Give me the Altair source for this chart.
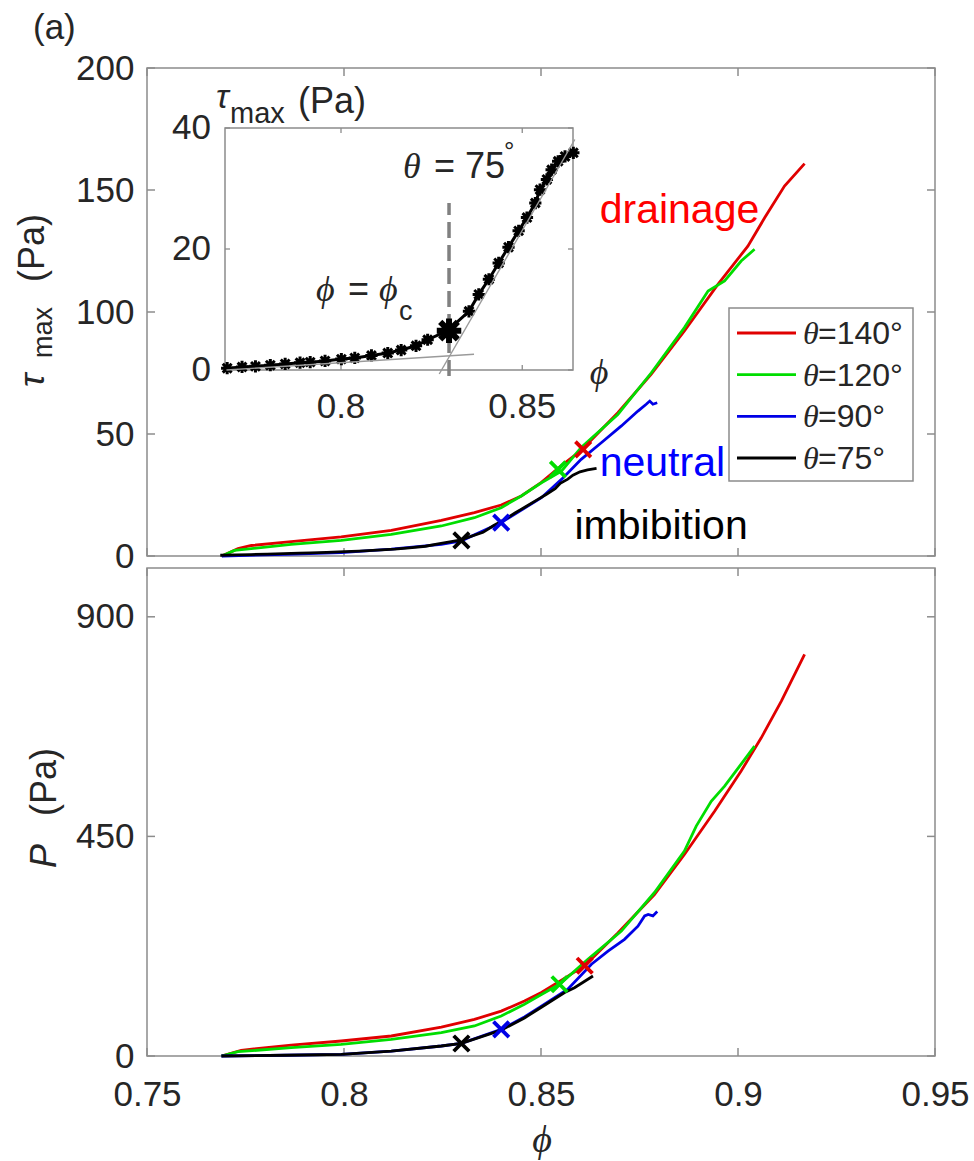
import altair as alt
import pandas as pd

# ---------------- data ----------------
SERIES = ["θ=140°", "θ=120°", "θ=90°", "θ=75°"]
LEG_NUM = ["=140°", "=120°", "=90°", "=75°"]
COLORS = ["#e00000", "#00dd00", "#0000e6", "#000000"]

# top panel: tau_max (Pa) vs phi
RED_PHI_T = [0.769, 0.7731, 0.7765, 0.7866, 0.7993, 0.812, 0.8247, 0.8331, 0.8399, 0.845, 0.8501,
             0.8551, 0.8602, 0.8695, 0.878, 0.8864, 0.8949, 0.9025, 0.9068, 0.9118, 0.9169]
RED_TAU = [0, 3.0, 4.3, 5.9, 7.8, 10.5, 14.6, 17.8, 20.9, 24.6, 30.2,
           37.0, 43.3, 58.7, 74.5, 92.2, 111.3, 127.0, 138.7, 151.6, 160.8]
GRN_PHI_T = [0.769, 0.7722, 0.7866, 0.7993, 0.812, 0.8247, 0.8331, 0.8399, 0.845, 0.8501,
             0.8552, 0.8602, 0.8695, 0.878, 0.8864, 0.8924, 0.8966, 0.9008, 0.9042]
GRN_TAU = [0, 2.3, 4.8, 6.4, 8.9, 12.3, 15.7, 19.8, 24.6, 30.0,
           34.8, 44.5, 58.0, 75.1, 93.6, 108.6, 112.7, 120.9, 125.7]
BLU_PHI_T = [0.769, 0.785, 0.7993, 0.812, 0.8247, 0.8298, 0.8399, 0.8501, 0.8552, 0.8602,
             0.8653, 0.8704, 0.8746, 0.8767, 0.8776, 0.8784, 0.8795]
BLU_TAU = [0, 0.7, 1.4, 2.8, 4.8, 6.2, 13.7, 23.9, 31.4, 39.6,
           46.4, 53.3, 59.4, 62.2, 63.5, 62.2, 62.8]
BLK_PHI_T = [0.7686, 0.7727, 0.7764, 0.7805, 0.7846, 0.7887, 0.7915, 0.7956, 0.8001, 0.8038,
             0.8084, 0.8129, 0.8166, 0.8207, 0.8239, 0.8294, 0.8353, 0.8380, 0.8408, 0.8435,
             0.8462, 0.8490, 0.8513, 0.8536, 0.8549, 0.8568, 0.8581, 0.8599, 0.8618, 0.8641]
BLK_TAU = [0.3, 0.5, 0.6, 0.8, 1.0, 1.2, 1.3, 1.5, 1.8, 2.0,
           2.4, 2.8, 3.3, 4.0, 5.0, 6.5, 9.7, 12.5, 15.0, 17.7,
           20.3, 23.0, 25.2, 27.6, 29.8, 31.5, 33.1, 34.5, 35.3, 35.9]

# bottom panel: P (Pa) vs phi
RED_PHI_B = [0.7689, 0.7739, 0.7866, 0.7993, 0.812, 0.8247, 0.8331, 0.8399, 0.8458, 0.8501,
             0.8551, 0.8611, 0.8695, 0.8788, 0.8864, 0.8941, 0.9008, 0.9059, 0.911, 0.9169]
RED_P = [0, 11.6, 22.5, 30.7, 41, 59.4, 75, 92, 112.7, 130,
         155, 185, 252, 331, 413, 502, 584, 652, 727, 823]
GRN_PHI_B = [0.7689, 0.7731, 0.7866, 0.7993, 0.812, 0.8247, 0.8331, 0.8399, 0.8458, 0.8501,
             0.8547, 0.8619, 0.8704, 0.8788, 0.8864, 0.8894, 0.8932, 0.8966, 0.9008, 0.9042]
GRN_P = [0, 8.8, 17, 24, 34, 47.8, 61.5, 82, 106, 126,
         147, 198, 256, 335, 420, 471, 522, 553, 598, 635]
BLU_PHI_B = [0.7689, 0.785, 0.7993, 0.812, 0.8247, 0.8298, 0.8399, 0.8458, 0.8501, 0.8568,
             0.8628, 0.867, 0.8712, 0.8746, 0.8763, 0.8772, 0.8784, 0.8795]
BLU_P = [0, 1.5, 3.4, 10, 20.5, 26, 54.6, 80, 102, 137,
         188, 215, 239, 266, 287, 290, 287, 296]
BLK_PHI_B = [0.7689, 0.785, 0.7993, 0.812, 0.8247, 0.8298, 0.8399, 0.8458, 0.8501, 0.856,
             0.8585, 0.8632]
BLK_P = [0, 1.5, 3.4, 10, 20.5, 26, 53, 78, 100, 130, 140, 164]

# transition markers (x)
MK_PHI_T = [0.8607, 0.8543, 0.8399, 0.8298]
MK_TAU = [43.7, 35.5, 13.7, 6.4]
MK_PHI_B = [0.8611, 0.8547, 0.8399, 0.8298]
MK_P = [185, 147, 54.6, 25.6]

# inset extras
FIT_LOW_PHI = [0.7684, 0.8367]
FIT_LOW_TAU = [0.0, 2.6]
FIT_HIGH_PHI = [0.8271, 0.8645]
FIT_HIGH_TAU = [-0.66, 38.1]
PHI_C = [0.8298]
TAU_C = [6.5]
DASH_LO = [-1.0]
DASH_HI = [27.6]

# ticks
XT_MAIN = [0.75, 0.8, 0.85, 0.9, 0.95]
YT_TOP = [0, 50, 100, 150, 200]
YT_BOT = [0, 450, 900]
XT_IN = [0.8, 0.85]
YT_IN = [0, 20, 40]

# ---------------- style ----------------
SANS = "Liberation Sans, Arial, Helvetica, sans-serif"
SERIF = "Liberation Serif, DejaVu Serif, Times New Roman, serif"
FRAME = "#8c8c8c"
TXT = "#262626"
W, H = 788, 488
IX0, IX1, IY0, IY1 = 78, 426, 60, 302
XPATH = "M-1,-1L1,1M-1,1L1,-1"
STAR = "M-1,0L1,0M0,-1L0,1M-0.72,-0.72L0.72,0.72M-0.72,0.72L0.72,-0.72"

X_MAIN = alt.Scale(domain=[0.75, 0.95], nice=False, zero=False)
Y_TOP = alt.Scale(domain=[0, 200], nice=False)
Y_BOT = alt.Scale(domain=[0, 1000], nice=False)
X_IN = alt.Scale(domain=[0.768, 0.864], range=[IX0, IX1], nice=False, zero=False)
Y_IN = alt.Scale(domain=[0, 40], range=[IY1, IY0], nice=False)
Y_LEG = alt.Scale(domain=[0, 3], range=[265, 390], nice=False, zero=False)
C_SCALE = alt.Scale(domain=SERIES, range=COLORS)


def yaxis(vals):
    return alt.Axis(values=vals, title=None, domain=False, ticks=False, tickSize=0, grid=False,
                    labelFont=SANS, labelFontSize=35, labelColor=TXT, labelPadding=13)


AX_TOP_Y = yaxis(YT_TOP)
AX_BOT_Y = yaxis(YT_BOT)
AX_BOT_X = alt.Axis(values=XT_MAIN, format="~g", title=None, domain=False, ticks=False, tickSize=0,
                    grid=False, labelFont=SANS, labelFontSize=35, labelColor=TXT, labelPadding=21,
                    labelFlush=False, labelOverlap=False)


def frame_df(phi_lists, val_lists):
    rows = []
    for s, ph, vv in zip(SERIES, phi_lists, val_lists):
        for i, (p, v) in enumerate(zip(ph, vv)):
            rows.append({"series": s, "phi": p, "val": v, "idx": i})
    return pd.DataFrame(rows)


top_df = frame_df([RED_PHI_T, GRN_PHI_T, BLU_PHI_T, BLK_PHI_T], [RED_TAU, GRN_TAU, BLU_TAU, BLK_TAU])
bot_df = frame_df([RED_PHI_B, GRN_PHI_B, BLU_PHI_B, BLK_PHI_B], [RED_P, GRN_P, BLU_P, BLK_P])
mk_df = pd.DataFrame({"series": SERIES, "pt": MK_PHI_T, "vt": MK_TAU, "pb": MK_PHI_B, "vb": MK_P})


def ptext(txt, x, y, size, font=SANS, style="normal", angle=0, align="left",
          baseline="alphabetic", color=TXT):
    return alt.Chart(pd.DataFrame({"t": [txt]})).mark_text(
        font=font, fontSize=size, fontStyle=style, angle=angle, align=align,
        baseline=baseline, color=color).encode(x=alt.value(x), y=alt.value(y), text="t:N")


def series_lines(df, yscale, xaxis, yax):
    out = []
    for s, c in zip(SERIES, COLORS):
        out.append(alt.Chart(df).transform_filter(alt.datum.series == s).mark_line(
            color=c, strokeWidth=2.8).encode(
            x=alt.X("phi:Q", scale=X_MAIN, axis=xaxis),
            y=alt.Y("val:Q", scale=yscale, axis=yax),
            order="idx:Q"))
    return out


def inward_ticks(yscale, yvals, xaxis, yax):
    xdf = pd.DataFrame({"t": XT_MAIN})
    ydf = pd.DataFrame({"t": yvals})
    rx = alt.Chart(xdf).mark_rule(color=FRAME, strokeWidth=1.5)
    ry = alt.Chart(ydf).mark_rule(color=FRAME, strokeWidth=1.5)
    xe = alt.X("t:Q", scale=X_MAIN, axis=xaxis)
    ye = alt.Y("t:Q", scale=yscale, axis=yax)
    return [
        rx.encode(x=xe, y=alt.value(H), y2=alt.value(H - 8)),
        rx.encode(x=xe, y=alt.value(0), y2=alt.value(8)),
        ry.encode(y=ye, x=alt.value(0), x2=alt.value(8)),
        ry.encode(y=ye, x=alt.value(W), x2=alt.value(W - 8)),
    ]


# ---------------- top panel ----------------
anchor = alt.Chart(pd.DataFrame({"a": [0]})).mark_rule(opacity=0).encode(
    x=alt.value(-146), x2=alt.value(-140), y=alt.value(-67), y2=alt.value(-67))

top_markers = alt.Chart(mk_df).mark_point(shape=XPATH, filled=False, size=240, strokeWidth=3.8,
                                          opacity=1).encode(
    x=alt.X("pt:Q", scale=X_MAIN, axis=None),
    y=alt.Y("vt:Q", scale=Y_TOP, axis=AX_TOP_Y),
    color=alt.Color("series:N", scale=C_SCALE, legend=None))


def annot(txt, phi, val, color):
    return alt.Chart(pd.DataFrame({"t": [txt]})).mark_text(
        font=SANS, fontSize=41, align="left", baseline="alphabetic", color=color).encode(
        x=alt.X(datum=phi, scale=X_MAIN, axis=None),
        y=alt.Y(datum=val, scale=Y_TOP, axis=AX_TOP_Y),
        text="t:N")


main_top = alt.layer(
    *inward_ticks(Y_TOP, YT_TOP, None, AX_TOP_Y),
    *series_lines(top_df, Y_TOP, None, AX_TOP_Y),
    top_markers,
    annot("drainage", 0.8649, 136.6, "#ff0000"),
    annot("neutral", 0.8649, 32.8, "#0000ff"),
    annot("imbibition", 0.8585, 7.0, "#000000"),
    ptext("(a)", -114, -29, 35),
    ptext("τ", -103, 319, 36, style="italic", angle=270),
    ptext("max", -95, 290, 27, angle=270),
    ptext("(Pa)", -103, 214, 36, angle=270),
    anchor,
)

# ---------------- inset ----------------
blk_df = pd.DataFrame({"phi": BLK_PHI_T, "val": BLK_TAU, "idx": list(range(len(BLK_PHI_T)))})
fit_df = pd.DataFrame({"phi": FIT_LOW_PHI + FIT_HIGH_PHI, "val": FIT_LOW_TAU + FIT_HIGH_TAU,
                       "g": ["low", "low", "high", "high"]})
crit_df = pd.DataFrame({"phi": PHI_C, "val": TAU_C, "lo": DASH_LO, "hi": DASH_HI})
XI = alt.X("phi:Q", scale=X_IN, axis=None)
YI = alt.Y("val:Q", scale=Y_IN, axis=None)

in_frame = alt.Chart(pd.DataFrame({"a": [0]})).mark_rect(
    fill="white", stroke=FRAME, strokeWidth=1.5).encode(
    x=alt.value(IX0), x2=alt.value(IX1), y=alt.value(IY0), y2=alt.value(IY1))
ixdf = pd.DataFrame({"t": XT_IN})
iydf = pd.DataFrame({"t": YT_IN})
ixe = alt.X("t:Q", scale=X_IN, axis=None)
iye = alt.Y("t:Q", scale=Y_IN, axis=None)
in_ticks = [
    alt.Chart(ixdf).mark_rule(color=FRAME, strokeWidth=1.3).encode(x=ixe, y=alt.value(IY1), y2=alt.value(IY1 - 5)),
    alt.Chart(ixdf).mark_rule(color=FRAME, strokeWidth=1.3).encode(x=ixe, y=alt.value(IY0), y2=alt.value(IY0 + 5)),
    alt.Chart(iydf).mark_rule(color=FRAME, strokeWidth=1.3).encode(y=iye, x=alt.value(IX0), x2=alt.value(IX0 + 5)),
    alt.Chart(iydf).mark_rule(color=FRAME, strokeWidth=1.3).encode(y=iye, x=alt.value(IX1), x2=alt.value(IX1 - 5)),
]
in_xlabels = alt.Chart(ixdf).mark_text(font=SANS, fontSize=35, color=TXT, baseline="middle").encode(
    x=ixe, y=alt.value(339), text=alt.Text("t:Q", format="~g"))
in_ylabels = alt.Chart(iydf).mark_text(font=SANS, fontSize=35, color=TXT, baseline="middle",
                                       align="right").encode(
    x=alt.value(64), y=iye, text=alt.Text("t:Q", format="~g"))

in_line = alt.Chart(blk_df).mark_line(color="black", strokeWidth=3).encode(x=XI, y=YI, order="idx:Q")
in_stars = alt.Chart(blk_df).mark_point(shape=STAR, filled=False, size=150, strokeWidth=3,
                                        color="black", opacity=1).encode(x=XI, y=YI)
in_blob = alt.Chart(crit_df).mark_point(shape=STAR, filled=False, size=600, strokeWidth=6,
                                        color="black", opacity=1).encode(x=XI, y=YI)
in_fits = alt.Chart(fit_df).mark_line(color="#9a9a9a", strokeWidth=1.4).encode(x=XI, y=YI, detail="g:N")
in_dash = alt.Chart(crit_df).mark_rule(color="#808080", strokeWidth=3.5, strokeDash=[16, 7]).encode(
    x=XI, y=alt.Y("lo:Q", scale=Y_IN, axis=None), y2="hi:Q")

inset = alt.layer(
    in_frame, *in_ticks, in_xlabels, in_ylabels,
    in_dash, in_line, in_stars, in_blob, in_fits,
    ptext("τ", 69, 40, 34, style="italic"),
    ptext("max", 83, 55, 29),
    ptext("(Pa)", 151, 45, 36),
    ptext("θ", 256, 110, 36, font=SERIF, style="italic"),
    ptext("= 75", 287, 110, 36),
    ptext("°", 357, 92, 26),
    ptext("ϕ", 169, 233, 36, font=SERIF, style="italic"),
    ptext("=", 201, 233, 36),
    ptext("ϕ", 232, 233, 36, font=SERIF, style="italic"),
    ptext("c", 252, 252, 27),
    ptext("ϕ", 452, 305, 36, font=SERIF, style="italic", align="center", baseline="middle"),
)

# ---------------- legend ----------------
leg_df = pd.DataFrame({"series": SERIES, "num": LEG_NUM, "row": [0, 1, 2, 3], "th": ["θ"] * 4})
YL = alt.Y("row:Q", scale=Y_LEG, axis=None)
legend = alt.layer(
    alt.Chart(pd.DataFrame({"a": [0]})).mark_rect(fill="white", stroke=FRAME, strokeWidth=1.5).encode(
        x=alt.value(582), x2=alt.value(766), y=alt.value(240), y2=alt.value(413)),
    alt.Chart(leg_df).mark_rule(strokeWidth=2.8).encode(
        x=alt.value(590), x2=alt.value(649), y=YL,
        color=alt.Color("series:N", scale=C_SCALE, legend=None)),
    alt.Chart(leg_df).mark_text(font=SERIF, fontStyle="italic", fontSize=32, align="left",
                                baseline="alphabetic", dy=11, color=TXT).encode(
        x=alt.value(656), y=YL, text="th:N"),
    alt.Chart(leg_df).mark_text(font=SANS, fontSize=32, align="left",
                                baseline="alphabetic", dy=11, color=TXT).encode(
        x=alt.value(671), y=YL, text="num:N"),
)

top = alt.layer(main_top, inset, legend).resolve_scale(
    x="independent", y="independent").properties(width=W, height=H)

# ---------------- bottom panel ----------------
bot_markers = alt.Chart(mk_df).mark_point(shape=XPATH, filled=False, size=240, strokeWidth=3.8,
                                          opacity=1).encode(
    x=alt.X("pb:Q", scale=X_MAIN, axis=AX_BOT_X),
    y=alt.Y("vb:Q", scale=Y_BOT, axis=AX_BOT_Y),
    color=alt.Color("series:N", scale=C_SCALE, legend=None))

bottom = alt.layer(
    *inward_ticks(Y_BOT, YT_BOT, AX_BOT_X, AX_BOT_Y),
    *series_lines(bot_df, Y_BOT, AX_BOT_X, AX_BOT_Y),
    bot_markers,
    ptext("P", -91, 300, 36, style="italic", angle=270),
    ptext("(Pa)", -91, 248, 36, angle=270),
    ptext("ϕ", 395, 573, 38, font=SERIF, style="italic", align="center", baseline="middle"),
).properties(width=W, height=H)

chart = alt.vconcat(top, bottom, spacing=12, bounds="flush").resolve_scale(
    x="independent", y="independent", color="independent"
).properties(
    padding={"left": 0, "top": 0, "right": 0, "bottom": 0},
    background="white",
).configure_view(stroke=FRAME, strokeWidth=1.5)

chart.save("out.html", embed_options={"renderer": "svg", "actions": False})
